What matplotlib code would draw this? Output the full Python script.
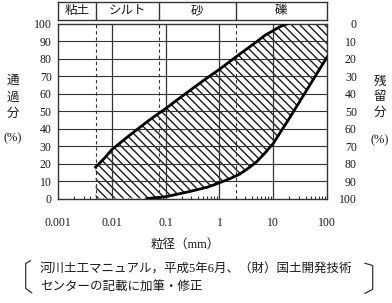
import matplotlib
matplotlib.use("Agg")
import matplotlib.pyplot as plt
from matplotlib.lines import Line2D

# grain size distribution band (passing %)
fine_d = [0.005, 0.0075, 0.01, 0.02, 0.05, 0.1, 0.2, 0.5, 1, 2, 3.5, 5, 7, 10, 13, 18]
fine_p = [18, 23.5, 28, 35.5, 45, 51.5, 58.5, 67.5, 74, 81, 86.5, 90, 93.5, 96.2, 98.3, 100]
coarse_d = [0.045, 0.1, 0.28, 0.6, 1, 1.6, 2.4, 3.5, 4.9, 7, 10, 15, 20, 100]
coarse_p = [0, 1, 4, 6.5, 9, 11.5, 14, 17.5, 21, 26, 31.5, 40, 46, 81]

bounds = [0.005, 0.075, 2]
soil_names = ["粘土", "シルト", "砂", "礫"]
x_ticks = [0.001, 0.01, 0.1, 1, 10, 100]
x_labels = ["0.001", "0.01", "0.1", "1", "10", "100"]
y_ticks = list(range(0, 101, 10))

plt.rcParams["font.family"] = ["Liberation Serif", "Noto Sans CJK JP", "DejaVu Sans"]
ink = "#1a1a1a"
W, H = 392, 303

fig = plt.figure(figsize=(W / 100, H / 100), dpi=100)
ax = fig.add_axes([58 / W, 1 - 198.5 / H, (327 - 58) / W, (198.5 - 24) / H])
ax.set_xscale("log")
ax.set_xlim(0.001, 100)
ax.set_ylim(0, 100)

# hatched band
poly_x = fine_d + [100] + coarse_d[::-1] + [fine_d[0]]
poly_y = fine_p + [100] + coarse_p[::-1] + [0]
plt.rcParams["hatch.linewidth"] = 1.0
ax.fill(poly_x, poly_y, facecolor="white", edgecolor=ink, hatch="\\\\\\\\", linewidth=0, zorder=2)
ax.plot(fine_d, fine_p, color="black", lw=2.0, zorder=4, solid_joinstyle="round")
ax.plot(coarse_d, coarse_p, color="black", lw=2.0, zorder=4, solid_joinstyle="round")

# grid
for y in y_ticks[1:-1]:
    ax.axhline(y, color="#333333", lw=0.8, zorder=3)
for x in x_ticks[1:-1]:
    ax.axvline(x, color="#333333", lw=0.9, zorder=3)
for b in bounds:
    ax.axvline(b, color="#333333", lw=0.8, ls=(0, (3, 2.5)), zorder=3)

for s in ax.spines.values():
    s.set_linewidth(1.0)
    s.set_color("#333333")

ax.set_xticks(x_ticks, x_labels)
ax.set_yticks(y_ticks)
ax.tick_params(axis="x", which="major", length=0, pad=13, labelsize=8.5, colors=ink)
ax.tick_params(axis="x", which="minor", direction="in", length=2.5, width=0.8, colors="#333333")
ax.tick_params(axis="y", length=0, pad=4.5, labelsize=8.5, colors=ink)

ax2 = ax.twinx()
ax2.set_ylim(100, 0)
ax2.set_yticks(y_ticks)
ax2.tick_params(axis="y", length=0, pad=21.5, labelsize=8.5, colors=ink)
for lab in ax2.get_yticklabels():
    lab.set_horizontalalignment("right")
for s in ax2.spines.values():
    s.set_visible(False)

# soil class header
hx = fig.add_axes([58 / W, 1 - 19.5 / H, (327 - 58) / W, 17.5 / H])
hx.set_xscale("log")
hx.set_xlim(0.001, 100)
hx.set_ylim(0, 1)
hx.set_xticks([])
hx.set_yticks([])
hx.minorticks_off()
for s in hx.spines.values():
    s.set_linewidth(1.0)
    s.set_color("#333333")
edges = [0.001] + bounds + [100]
for b in bounds:
    hx.axvline(b, color="#333333", lw=1.0)
for i, name in enumerate(soil_names):
    xm = (edges[i] * edges[i + 1]) ** 0.5
    hx.text(xm, 0.5, name, ha="center", va="center", fontsize=9, color=ink)

# side labels
def ftxt(px, py, s, **kw):
    fig.text(px / W, 1 - py / H, s, ha="center", va="center", fontsize=9, color=ink, **kw)

for ch, py in zip("通過分", [81, 98, 114]):
    ftxt(13, py, ch)
ftxt(13, 138, "(%)")
for ch, py in zip("残留分", [82, 97, 113]):
    ftxt(380, py, ch)
ftxt(380, 140, "(%)")

ftxt(185, 245, "粒径（mm）")
fig.text(40 / W, 1 - 270 / H, "河川土工マニュアル，平成5年6月、（財）国土開発技術",
         ha="left", va="center", fontsize=9, color=ink)
fig.text(40 / W, 1 - 288 / H, "センターの記載に加筆・修正",
         ha="left", va="center", fontsize=9, color=ink)

# brackets around the source note
lb = [(30.5, 260.7), (25.7, 263.5), (25.7, 288.5), (31.7, 292.7)]
rb = [(365, 263.3), (372.7, 265.5), (372.7, 289.3), (365, 293.3)]
for pts in (lb, rb):
    fig.add_artist(Line2D([p[0] / W for p in pts], [1 - p[1] / H for p in pts],
                          transform=fig.transFigure, color="#333333", lw=0.9))

fig.savefig("out.png", dpi=100)
